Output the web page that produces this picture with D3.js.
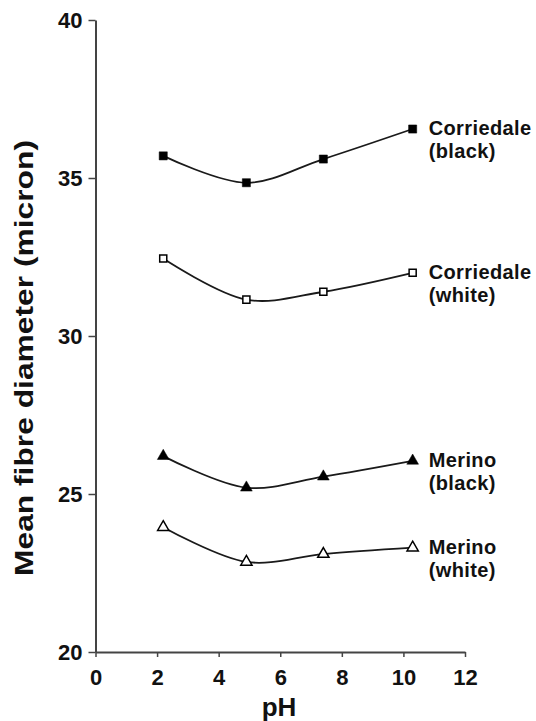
<!DOCTYPE html>
<html>
<head>
<meta charset="utf-8">
<script src="https://cdn.jsdelivr.net/npm/d3@7/dist/d3.min.js"></script>
<style>
  html, body { margin: 0; padding: 0; background: #ffffff; }
  svg { display: block; }
  text { font-family: "Liberation Sans", Arial, sans-serif; font-weight: bold; fill: #111; }
</style>
</head>
<body>
<div id="chart"></div>
<script>
// ---- data ----
const pH = [2.2, 4.9, 7.4, 10.3];
const corriedaleBlack = [35.7, 34.85, 35.6, 36.55];
const corriedaleWhite = [32.45, 31.15, 31.4, 32.0];
const merinoBlack = [26.2, 25.2, 25.55, 26.05];
const merinoWhite = [23.95, 22.85, 23.1, 23.3];
const seriesNames = [["Corriedale", "(black)"], ["Corriedale", "(white)"], ["Merino", "(black)"], ["Merino", "(white)"]];
const xTicks = [0, 2, 4, 6, 8, 10, 12];
const yTicks = [20, 25, 30, 35, 40];
const xTitle = "pH";
const yTitle = "Mean fibre diameter (micron)";

// ---- layout ----
const W = 536, H = 721;
const svg = d3.select("#chart").append("svg").attr("width", W).attr("height", H);
svg.append("rect").attr("width", W).attr("height", H).attr("fill", "#ffffff");

const x = d3.scaleLinear().domain([0, 12]).range([95.5, 465]);
const y = d3.scaleLinear().domain([20, 40]).range([652, 20]);

// axes
const yAxis = svg.append("g").attr("transform", `translate(${x(0)},0)`)
  .call(d3.axisLeft(y).tickValues(yTicks).tickSize(7).tickSizeOuter(0).tickPadding(6).tickFormat(d3.format("d")));
const xAxis = svg.append("g").attr("transform", `translate(0,${y(20)})`)
  .call(d3.axisBottom(x).tickValues(xTicks).tickSize(5).tickSizeOuter(0).tickPadding(12).tickFormat(d3.format("d")));
[xAxis, yAxis].forEach(g => {
  g.select(".domain").attr("stroke", "#444").attr("stroke-width", 2);
  g.selectAll(".tick line").attr("stroke", "#444").attr("stroke-width", 1.5);
  g.selectAll(".tick text").attr("font-size", 22).attr("font-weight", "bold")
    .attr("font-family", '"Liberation Sans", Arial, sans-serif').attr("fill", "#111");
});

// titles
svg.append("text").attr("x", 279).attr("y", 716).attr("text-anchor", "middle")
  .attr("font-size", 26).text(xTitle);
svg.append("text").attr("transform", "translate(33,358) rotate(-90)")
  .attr("text-anchor", "middle").attr("font-size", 25)
  .attr("textLength", 436).attr("lengthAdjust", "spacingAndGlyphs").text(yTitle);

// series
const series = [
  { values: corriedaleBlack, symbol: d3.symbolSquare, size: 66, filled: true },
  { values: corriedaleWhite, symbol: d3.symbolSquare, size: 50, filled: false },
  { values: merinoBlack, symbol: d3.symbolTriangle, size: 60, filled: true },
  { values: merinoWhite, symbol: d3.symbolTriangle, size: 55, filled: false }
];

const line = d3.line().x((d, i) => x(pH[i])).y(d => y(d)).curve(d3.curveCatmullRom.alpha(0.5));

series.forEach((s, si) => {
  const g = svg.append("g");
  g.append("path").attr("d", line(s.values)).attr("fill", "none")
    .attr("stroke", "#1a1a1a").attr("stroke-width", 1.8);
  g.selectAll("path.m").data(s.values).enter().append("path").attr("class", "m")
    .attr("transform", (d, i) => `translate(${x(pH[i])},${y(d)})`)
    .attr("d", d3.symbol().type(s.symbol).size(s.size))
    .attr("fill", s.filled ? "#000" : "#fff")
    .attr("stroke", "#000").attr("stroke-width", s.filled ? 0.5 : 1.5);
  const last = s.values.length - 1;
  const lx = x(pH[last]) + 16, ly = y(s.values[last]) + 6;
  const t = svg.append("text").attr("font-size", 20).attr("letter-spacing", 0.4);
  t.append("tspan").attr("x", lx).attr("y", ly).text(seriesNames[si][0]);
  t.append("tspan").attr("x", lx).attr("y", ly + 23).text(seriesNames[si][1]);
});
</script>
</body>
</html>
